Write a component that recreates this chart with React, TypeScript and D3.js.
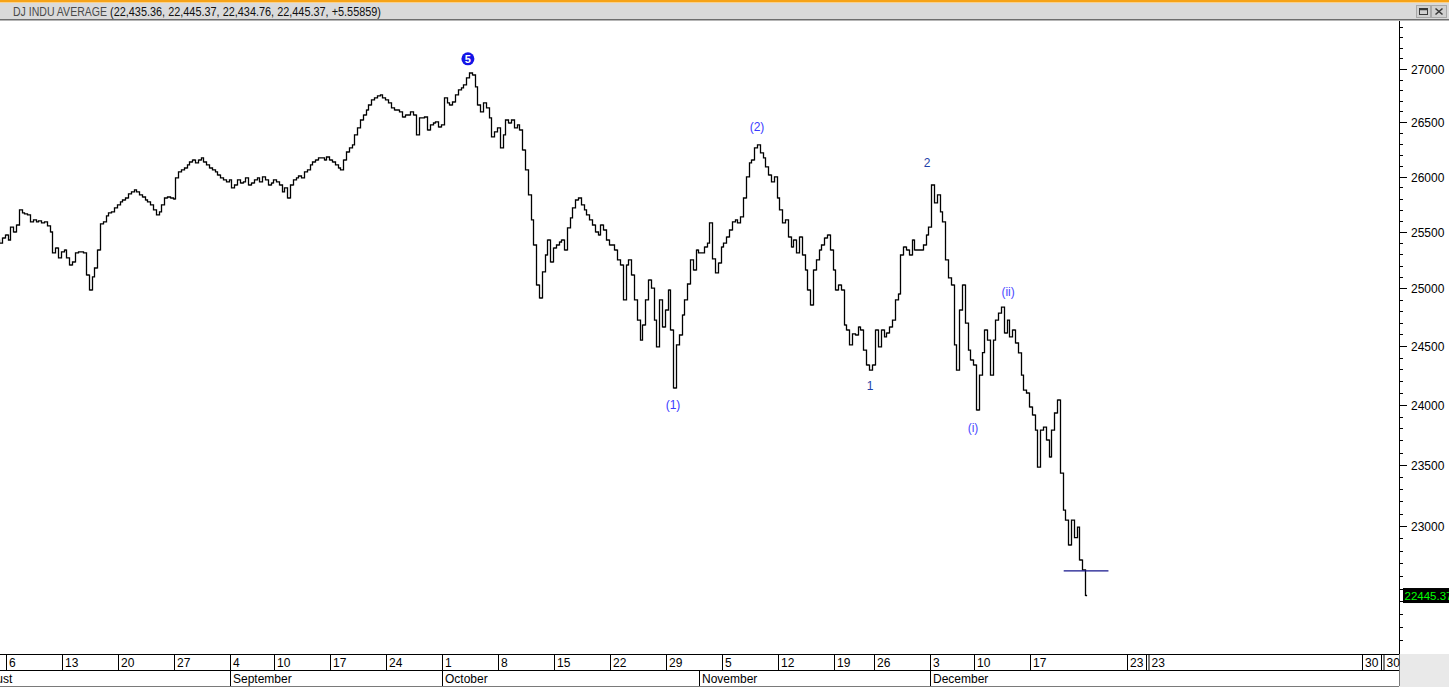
import { useMemo } from "react";
import * as d3 from "d3";

const W = 1449;
const H = 687;

// intraday path, 4 readings per session (half session = 2)
const aug: [string, ...number[]][] = [
  ["08-03", 25427, 25400, 25445, 25472],
  ["08-06", 25427, 25543, 25499, 25561],
  ["08-07", 25697, 25670, 25661, 25652],
  ["08-08", 25589, 25607, 25589, 25598],
  ["08-09", 25580, 25589, 25553, 25499],
  ["08-10", 25312, 25356, 25268, 25321],
  ["08-13", 25338, 25268, 25205, 25232],
  ["08-14", 25312, 25321, 25321, 25312],
  ["08-15", 25117, 24985, 25100, 25179],
  ["08-16", 25338, 25571, 25589, 25643],
  ["08-17", 25670, 25679, 25715, 25742],
  ["08-20", 25769, 25787, 25805, 25842],
  ["08-21", 25860, 25878, 25860, 25833],
  ["08-22", 25814, 25787, 25769, 25742],
  ["08-23", 25697, 25652, 25679, 25742],
  ["08-24", 25805, 25814, 25805, 25796],
  ["08-27", 25987, 26042, 26060, 26078],
  ["08-28", 26106, 26133, 26151, 26124],
  ["08-29", 26151, 26170, 26133, 26106],
  ["08-30", 26078, 26060, 26042, 26014],
  ["08-31", 25987, 25969, 25951, 25969],
];

const sep: [string, ...number[]][] = [
  ["09-04", 25896, 25923, 25969, 25941],
  ["09-05", 25951, 25987, 25923, 25941],
  ["09-06", 25969, 25987, 25951, 25996],
  ["09-07", 25969, 25923, 25941, 25969],
  ["09-10", 25951, 25923, 25860, 25896],
  ["09-11", 25805, 25923, 25969, 25987],
  ["09-12", 26005, 25987, 26042, 26060],
  ["09-13", 26106, 26133, 26151, 26170],
  ["09-14", 26170, 26151, 26179, 26151],
  ["09-17", 26133, 26106, 26078, 26060],
  ["09-18", 26151, 26225, 26262, 26290],
  ["09-19", 26382, 26447, 26521, 26567],
  ["09-20", 26614, 26661, 26708, 26727],
  ["09-21", 26746, 26755, 26727, 26708],
  ["09-24", 26680, 26633, 26614, 26614],
  ["09-25", 26596, 26549, 26567, 26567],
  ["09-26", 26596, 26567, 26382, 26540],
  ["09-27", 26540, 26549, 26428, 26475],
  ["09-28", 26493, 26503, 26456, 26475],
];

const oct: [string, ...number[]][] = [
  ["10-01", 26727, 26680, 26661, 26689],
  ["10-02", 26755, 26802, 26821, 26849],
  ["10-03", 26915, 26962, 26943, 26830],
  ["10-04", 26661, 26596, 26680, 26633],
  ["10-05", 26540, 26364, 26410, 26447],
  ["10-08", 26262, 26382, 26521, 26493],
  ["10-09", 26521, 26447, 26475, 26428],
  ["10-10", 26243, 26060, 25833, 25607],
  ["10-11", 25383, 25029, 24915, 25144],
  ["10-12", 25294, 25427, 25232, 25356],
  ["10-15", 25383, 25409, 25427, 25338],
  ["10-16", 25535, 25625, 25715, 25787],
  ["10-17", 25805, 25742, 25697, 25652],
  ["10-18", 25607, 25561, 25499, 25472],
  ["10-19", 25561, 25517, 25427, 25383],
  ["10-22", 25383, 25338, 25250, 25205],
  ["10-23", 24898, 25205, 25250, 25117],
  ["10-24", 24898, 24723, 24550, 24680],
  ["10-25", 24898, 25073, 25002, 24723],
  ["10-26", 24491, 24898, 24663, 24810],
  ["10-29", 24985, 24637, 24141, 24508],
  ["10-30", 24594, 24767, 24898, 25038],
  ["10-31", 25250, 25161, 25338, 25312],
];

const nov: [string, ...number[]][] = [
  ["11-01", 25312, 25365, 25400, 25580],
  ["11-02", 25259, 25135, 25223, 25365],
  ["11-05", 25400, 25454, 25517, 25589],
  ["11-06", 25607, 25580, 25634, 25805],
  ["11-07", 25996, 26124, 26151, 26262],
  ["11-08", 26290, 26216, 26170, 26088],
  ["11-09", 26014, 25951, 25996, 25805],
  ["11-12", 25697, 25580, 25607, 25454],
  ["11-13", 25365, 25427, 25312, 25454],
  ["11-14", 25294, 25161, 24985, 24854],
  ["11-15", 25161, 25250, 25338, 25383],
  ["11-16", 25445, 25472, 25338, 25161],
  ["11-19", 24985, 25029, 24985, 24680],
  ["11-20", 24637, 24508, 24603, 24594],
  ["11-21", 24663, 24637, 24464, 24336],
  ["11-23", 24293, 24336],
  ["11-26", 24637, 24491, 24637, 24577],
  ["11-27", 24611, 24663, 24723, 24898],
  ["11-28", 24950, 25294, 25365, 25338],
  ["11-29", 25294, 25427, 25338, 25338],
  ["11-30", 25338, 25383, 25472, 25543],
];

const dec: [string, ...number[]][] = [
  ["12-03", 25923, 25760, 25833, 25679],
  ["12-04", 25589, 25250, 25091, 25029],
  ["12-06", 24508, 24293, 24810, 25029],
  ["12-07", 24697, 24464, 24379, 24336],
  ["12-10", 23955, 24250, 24442, 24637],
  ["12-11", 24550, 24250, 24550, 24723],
  ["12-12", 24783, 24836, 24611, 24723],
  ["12-13", 24577, 24637, 24525, 24440],
  ["12-14", 24250, 24123, 24098, 23980],
  ["12-17", 23913, 23787, 23480, 23787],
  ["12-18", 23812, 23704, 23563, 23787],
  ["12-19", 23930, 24039, 23430, 23128],
  ["12-20", 23047, 22847, 23047, 22906],
  ["12-21", 22990, 22727, 22648, 22445.37],
];

const halfSessions = ["11-23"];
const lastPrice = 22445.37;
const markerLevel = 22640;

const titleName = "DJ INDU AVERAGE";
const titleValues = "(22,435.36, 22,445.37, 22,434.76, 22,445.37, +5.55859)";

// labels past the last session, in session units
const futureTicks = [
  { label: "23", u: 101.2, double: false },
  { label: "23", u: 102.9, double: true },
  { label: "30", u: 122.2, double: false },
  { label: "30", u: 123.9, double: true },
];

const waveLabels = [
  { text: "5", u: 42.3, v: 27096, color: "#1414e6", circle: true },
  { text: "(2)", u: 68.15, v: 26456, color: "#3a3aff", circle: false },
  { text: "2", u: 83.35, v: 26124, color: "#1e3fa8", circle: false },
  { text: "(1)", u: 60.64, v: 24000, color: "#3a3aff", circle: false },
  { text: "1", u: 78.25, v: 24165, color: "#1e3fa8", circle: false },
  { text: "(i)", u: 87.46, v: 23812, color: "#4a4aff", circle: false },
  { text: "(ii)", u: 90.6, v: 24976, color: "#4a4aff", circle: false },
];

const months = ["January", "February", "March", "April", "May", "June", "July", "August", "September", "October", "November", "December"];

const FONT = "'Liberation Sans', Arial, sans-serif";

export default function App() {
  const plotTop = 21;
  const plotBottom = 652;
  const axisX = 1399;
  const rowTop = 654;
  const rowMid = 670;
  const rowBot = 686;

  const sessions = useMemo(() => {
    const all = [...aug, ...sep, ...oct, ...nov, ...dec];
    let u = 0;
    return all.map(([md, ...vals]) => {
      const [m, d] = md.split("-").map(Number);
      const w = halfSessions.includes(md) ? 4 / 7 : 1;
      const s = { date: new Date(2018, m - 1, d), start: u, w, vals };
      u += w;
      return s;
    });
  }, []);

  const x = d3
    .scaleLinear()
    .domain([sessions[1].start, sessions.find((s) => s.date.getMonth() === 11)!.start])
    .range([6, 929.5]);

  const y = d3.scaleLog().domain([22005, 27458]).range([plotBottom, plotTop]);

  // bars: open = previous reading, close = this reading
  let barPath = "";
  let prev = sessions[0].vals[0];
  sessions.forEach((s) => {
    const n = s.vals.length;
    s.vals.forEach((v, k) => {
      const px = Math.round(x(s.start + (s.w * (k + 0.6)) / n)) + 0.5;
      const yo = y(prev);
      const yc = y(v);
      const top = Math.min(yo, yc) - 0.6;
      const bot = Math.max(yo, yc) + 0.6;
      barPath += `M${px},${top}V${bot}M${px - 1.6},${yo.toFixed(1)}H${px}M${px},${yc.toFixed(1)}H${px + 1.6}`;
      prev = v;
    });
  });

  const weekTicks = sessions.filter((s, i) => i > 0 && s.date.getDay() <= sessions[i - 1].date.getDay());
  const monthTicks = sessions.filter((s, i) => i > 0 && s.date.getMonth() !== sessions[i - 1].date.getMonth());

  const yTicks = d3.range(22100, 27500, 100);
  const lastY = y(lastPrice);

  const markerStart = sessions[sessions.length - 2].start;

  return (
    <>
      <style>{`body{margin:0;overflow:hidden;}`}</style>
      <svg width={W} height={H} style={{ display: "block", fontFamily: FONT }}>
        <rect x={0} y={0} width={W} height={H} fill="#ffffff" />
        {/* header */}
        <rect x={0} y={0} width={W} height={2.5} fill="#f6a318" />
        <rect x={0} y={3} width={W} height={16.5} fill="#dadada" />
        <line x1={0} x2={W} y1={19.8} y2={19.8} stroke="#6e6e6e" strokeWidth={1.4} />
        <text x={13} y={15.5} fontSize={12} fill="#4a4a4a" textLength={94} lengthAdjust="spacingAndGlyphs">
          {titleName}
        </text>
        <text x={110} y={15.5} fontSize={12} fill="#111" textLength={271} lengthAdjust="spacingAndGlyphs">
          {titleValues}
        </text>
        <g>
          <rect x={1416.5} y={5.5} width={14} height={12} fill="#d0d0d0" stroke="#a8a8a8" />
          <rect x={1419.5} y={8.5} width={8} height={6} fill="none" stroke="#3a3a3a" />
          <line x1={1419.5} x2={1427.5} y1={9.5} y2={9.5} stroke="#3a3a3a" strokeWidth={1.5} />
          <rect x={1431.5} y={5.5} width={15} height={12} fill="#d0d0d0" stroke="#a8a8a8" />
          <path d="M1435.5,8.5L1442.5,14.5M1442.5,8.5L1435.5,14.5" stroke="#3a3a3a" strokeWidth={1.6} />
        </g>

        {/* price bars */}
        <defs>
          <clipPath id="plotClip">
            <rect x={0} y={plotTop} width={axisX - 1} height={plotBottom - plotTop + 1} />
          </clipPath>
        </defs>
        <g clipPath="url(#plotClip)">
          <path d={barPath} fill="none" stroke="#000" strokeWidth={1.3} />
          <line
            x1={x(markerStart)}
            x2={x(markerStart + 4)}
            y1={y(markerLevel)}
            y2={y(markerLevel)}
            stroke="#14148c"
            strokeWidth={1.3}
          />
        </g>

        {/* wave labels */}
        {waveLabels.map((l) =>
          l.circle ? (
            <g key={l.text + l.u}>
              <circle cx={x(l.u)} cy={y(l.v)} r={6.5} fill={l.color} />
              <text x={x(l.u)} y={y(l.v) + 4} fontSize={11} fontWeight="bold" fill="#fff" textAnchor="middle">
                {l.text}
              </text>
            </g>
          ) : (
            <text key={l.text + l.u} x={x(l.u)} y={y(l.v) + 4.5} fontSize={12} fill={l.color} textAnchor="middle">
              {l.text}
            </text>
          )
        )}

        {/* right axis */}
        <line x1={axisX + 0.5} x2={axisX + 0.5} y1={plotTop} y2={rowTop} stroke="#000" />
        {yTicks.map((t) => {
          const major = t % 500 === 0;
          const ty = Math.round(y(t)) + 0.5;
          // the last-price box hides a label that sits under it
          const hidden = Math.abs(ty - lastY) < 14;
          return (
            <g key={t}>
              <line x1={axisX} x2={axisX + (major ? 8 : 4)} y1={ty} y2={ty} stroke="#000" />
              {major && !hidden && (
                <text x={1411} y={ty + 4.5} fontSize={12} fill="#000">
                  {t}
                </text>
              )}
            </g>
          );
        })}
        <rect x={1403} y={lastY - 7.5} width={46} height={15} fill="#000" />
        <text x={1404.5} y={lastY + 4.5} fontSize={11.5} fill="#00ff00">
          {lastPrice.toFixed(2)}
        </text>

        {/* date axis */}
        <rect x={axisX} y={rowTop} width={W - axisX} height={H - rowTop} fill="#e9e9e9" />
        <line x1={axisX + 0.5} x2={axisX + 0.5} y1={rowTop} y2={rowBot} stroke="#7a7a7a" />
        <line x1={0} x2={axisX} y1={rowTop + 0.5} y2={rowTop + 0.5} stroke="#000" />
        <line x1={0} x2={axisX} y1={rowMid + 0.5} y2={rowMid + 0.5} stroke="#000" />
        <line x1={0} x2={axisX} y1={rowBot + 0.5} y2={rowBot + 0.5} stroke="#7a7a7a" />
        {weekTicks.map((s) => {
          const tx = Math.round(x(s.start)) + 0.5;
          return (
            <g key={"w" + s.start}>
              <line x1={tx} x2={tx} y1={rowTop} y2={rowMid} stroke="#000" />
              <text x={tx + 2.5} y={rowMid - 3.5} fontSize={12} fill="#000">
                {s.date.getDate()}
              </text>
            </g>
          );
        })}
        {futureTicks.map((f) => {
          const tx = Math.round(x(f.u)) + 0.5;
          return (
            <g key={"f" + f.u}>
              <line x1={tx} x2={tx} y1={rowTop} y2={rowMid} stroke="#000" />
              {f.double && <line x1={tx + 2.5} x2={tx + 2.5} y1={rowTop} y2={rowMid} stroke="#000" />}
              <text x={tx + (f.double ? 5 : 2.5)} y={rowMid - 3.5} fontSize={12} fill="#000">
                {f.label}
              </text>
            </g>
          );
        })}
        <text x={x(sessions[0].start - 2) + 2.5} y={rowBot - 3.5} fontSize={12} fill="#000">
          {months[sessions[0].date.getMonth()]}
        </text>
        {monthTicks.map((s) => {
          const mx = Math.round(x(s.start)) + 0.5;
          return (
            <g key={"m" + s.start}>
              <line x1={mx} x2={mx} y1={rowMid} y2={rowBot} stroke="#000" />
              <text x={mx + 2.5} y={rowBot - 3.5} fontSize={12} fill="#000">
                {months[s.date.getMonth()]}
              </text>
            </g>
          );
        })}
      </svg>
    </>
  );
}
